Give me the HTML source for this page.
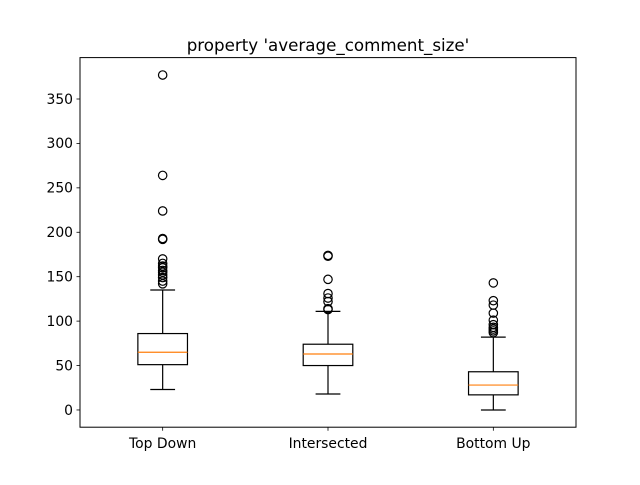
<!DOCTYPE html>
<html><head><meta charset="utf-8"><style>
body{margin:0;background:#fff;}
svg text{font-family:"DejaVu Sans","Liberation Sans",sans-serif;}
</style></head><body>
<svg id="chart" width="640" height="480" xmlns="http://www.w3.org/2000/svg">
<rect width="640" height="480" fill="#fff"/>
<text x="328" y="51" font-size="16.7" text-anchor="middle">property 'average_comment_size'</text>
<g id="plot"></g>
<rect x="80" y="57.6" width="496" height="369.6" fill="none" stroke="#000" stroke-width="1"/>
</svg>
<script>
const categories = ["Top Down","Intersected","Bottom Up"];
const whiskerLow = [23, 18, 0];
const q1Values = [51, 50, 17];
const medians = [65, 63, 28];
const q3Values = [86, 74, 43];
const whiskerHigh = [135, 111, 82];
const outliersTopDown = [377, 264, 224, 193, 192, 170, 165, 162, 160, 157, 155, 152, 149, 145, 142];
const outliersIntersected = [174, 173, 147, 131, 126, 122, 114, 113];
const outliersBottomUp = [143, 123, 118, 109, 101, 96, 93, 91, 89, 87];
const yTicks = [0, 50, 100, 150, 200, 250, 300, 350];

const outliers = [outliersTopDown, outliersIntersected, outliersBottomUp];
const L=80,R=576,T=57.6,B=427.2;
const yMin=-19.4, yMax=396.6;
const y = v => B - (v - yMin) / (yMax - yMin) * (B - T);
const x = i => L + (i + 0.5) / categories.length * (R - L);
const bw = 0.3 * (R - L) / categories.length;
const NS="http://www.w3.org/2000/svg";
const g=document.getElementById('plot');
function mk(tag, attrs){const e=document.createElementNS(NS,tag);for(const k in attrs)e.setAttribute(k,attrs[k]);g.appendChild(e);return e;}

yTicks.forEach(t=>{
  const ln=mk('line',{x1:L-3.5,x2:L,y1:y(t),y2:y(t),stroke:'#000','stroke-width':0.8});
  
  
  const tx=mk('text',{x:L-7,y:y(t)+4.8,'font-size':13.9,'text-anchor':'end'});
  tx.textContent=t;
  
  
});

categories.forEach((c,i)=>{
  const cx=x(i);
  const tk=mk('line',{x1:cx,x2:cx,y1:B,y2:B+3.5,stroke:'#000','stroke-width':0.8});
  
  
  const tl=mk('text',{x:cx,y:B+21,'font-size':13.9,'text-anchor':'middle'});
  tl.textContent=c;
  
  
  const s={stroke:'#000','stroke-width':1.2,fill:'none'};
  const w1=mk('line',Object.assign({x1:cx,x2:cx,y1:y(q1Values[i]),y2:y(whiskerLow[i])},s));
  
  
  const w2=mk('line',Object.assign({x1:cx,x2:cx,y1:y(q3Values[i]),y2:y(whiskerHigh[i])},s));
  
  
  [whiskerLow[i],whiskerHigh[i]].forEach(v=>{
    const cp=mk('line',Object.assign({x1:cx-bw/4,x2:cx+bw/4,y1:y(v),y2:y(v)},s));
    
    
  });
  const bx=mk('rect',Object.assign({x:cx-bw/2,y:y(q3Values[i]),width:bw,height:y(q1Values[i])-y(q3Values[i])},s));
  
  
  const md=mk('line',{x1:cx-bw/2,x2:cx+bw/2,y1:y(medians[i]),y2:y(medians[i]),stroke:'#ff7f0e','stroke-width':1.2});
  
  
  outliers[i].forEach(v=>{
    const o=mk('circle',{cx:cx,cy:y(v),r:4.2,stroke:'#000','stroke-width':1.2,fill:'none'});
    
    
  });
});
</script>
</body></html>
